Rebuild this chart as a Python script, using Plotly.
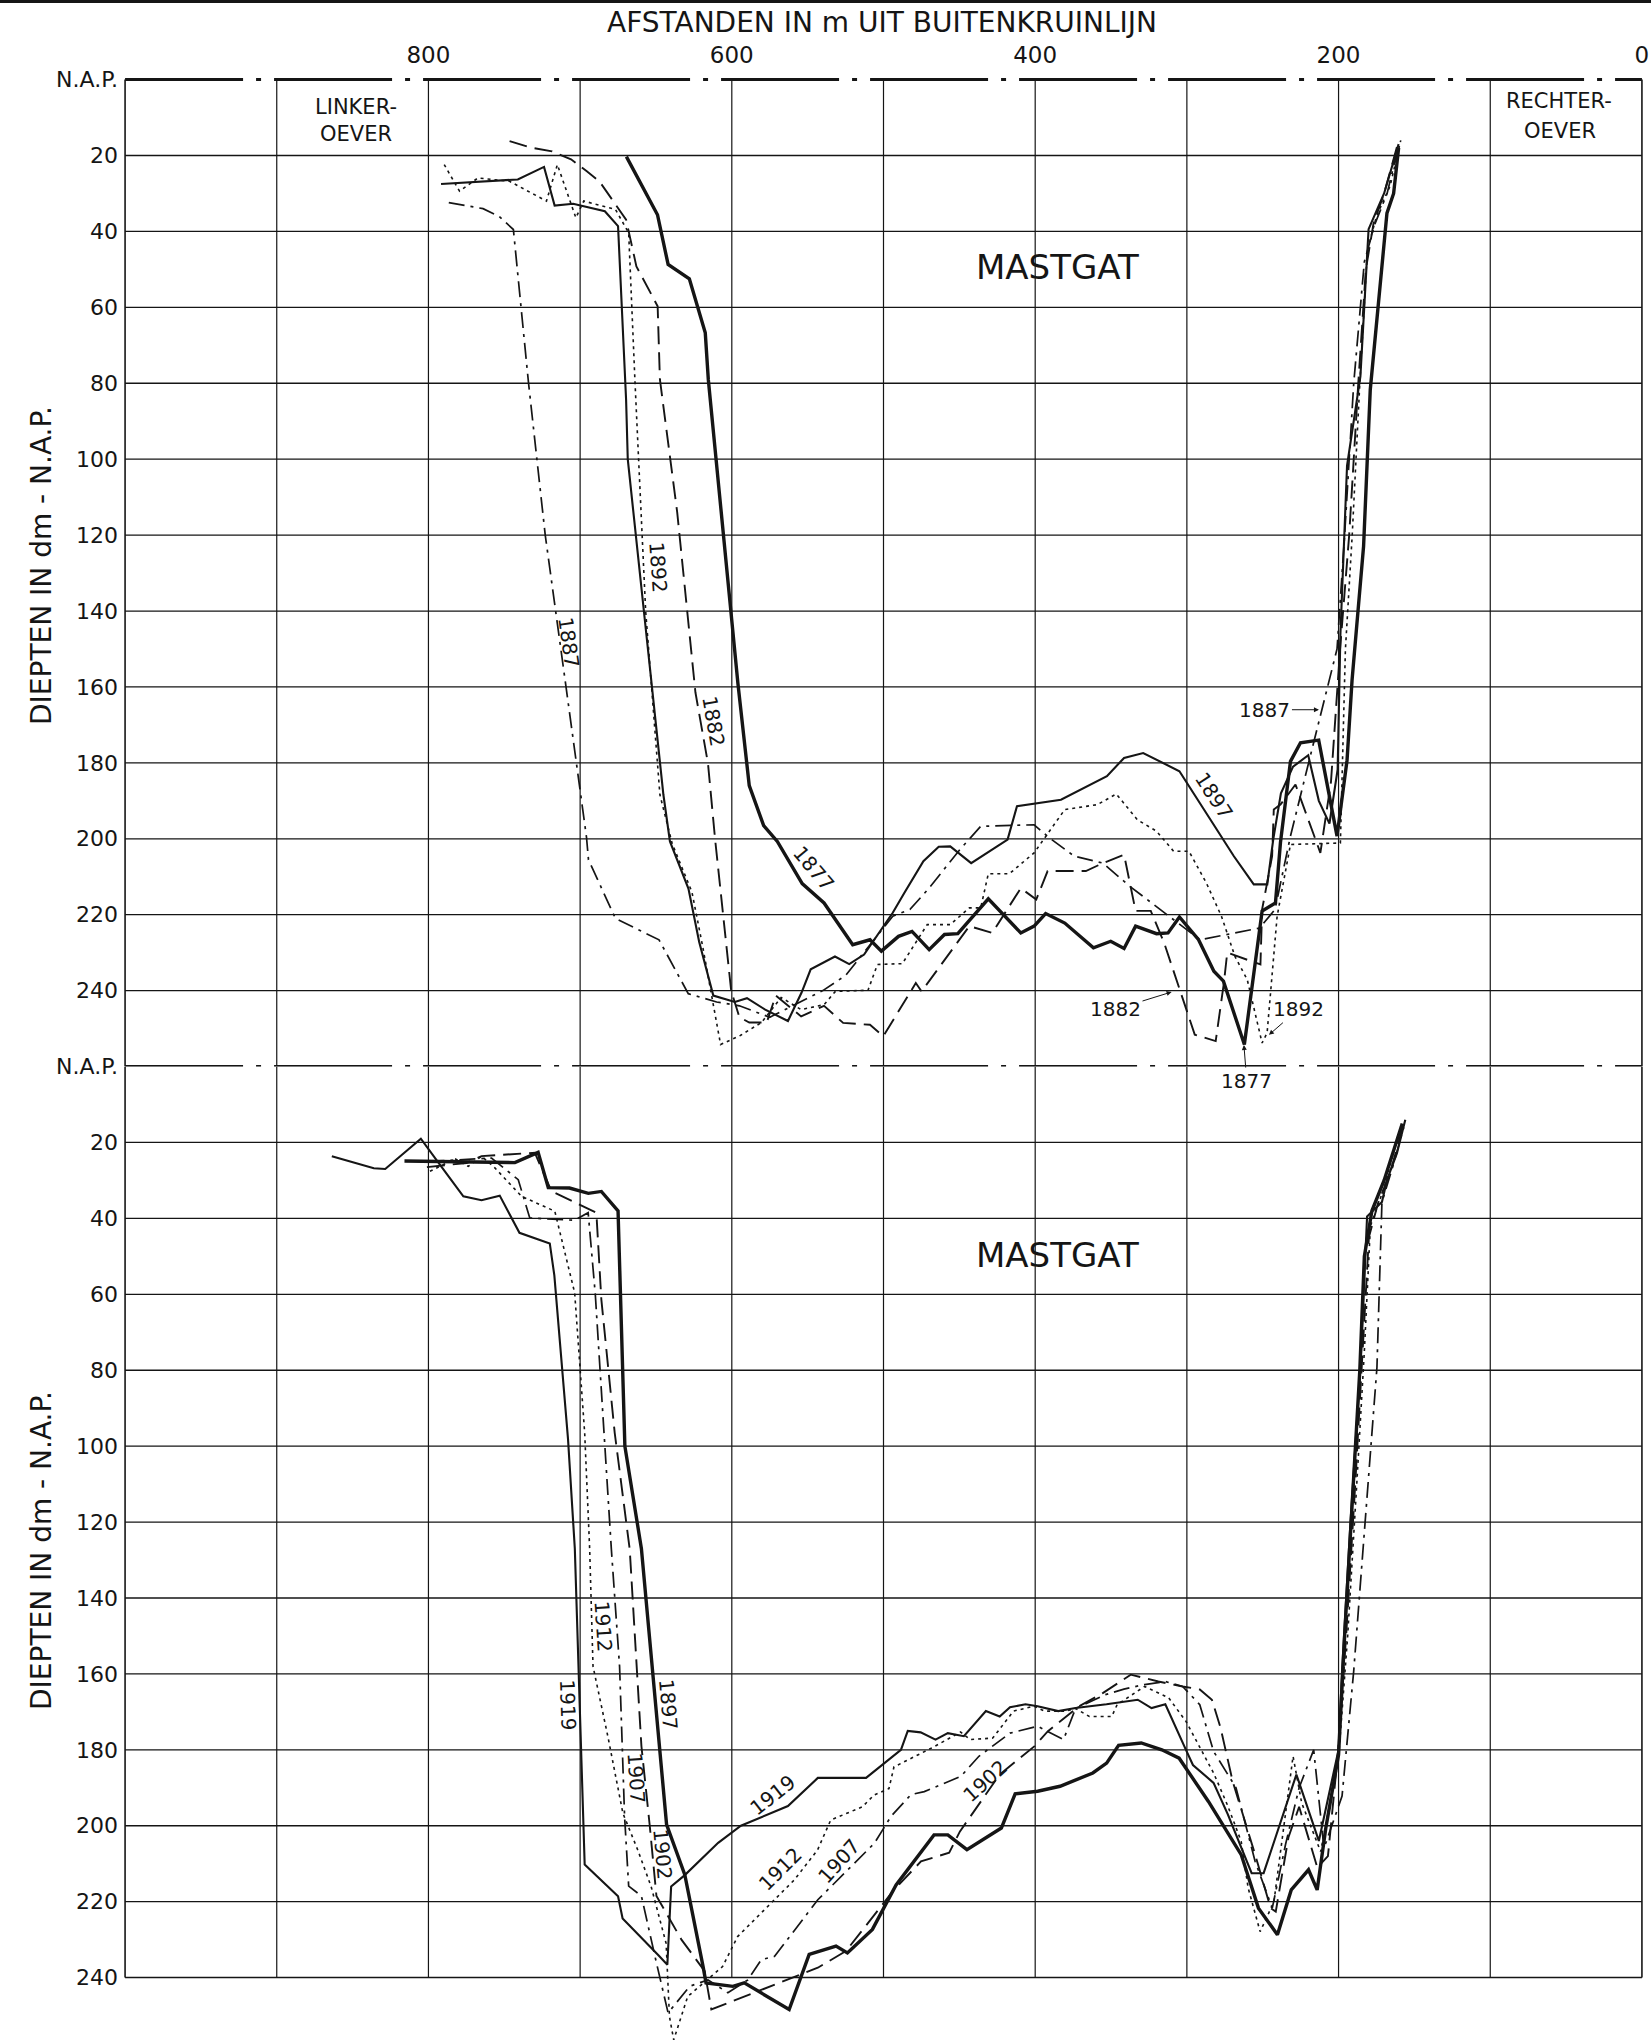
import plotly.graph_objects as go

# ---------------- data: distance (m from buitenkruinlijn) / depth (dm - N.A.P.) ----------------
X_TICKS = [800, 600, 400, 200, 0]
X_GRID = [1000, 900, 800, 700, 600, 500, 400, 300, 200, 100, 0]
Y_TICKS = [0, 20, 40, 60, 80, 100, 120, 140, 160, 180, 200, 220, 240]
Y_TICKTEXT = ["N.A.P."] + [str(v) for v in Y_TICKS[1:]]

# --- upper panel: 1877 - 1897 ---
t1877_x = [669.5, 649, 642, 628, 617.5, 615.5, 596, 588.5, 579, 570, 553.6, 539.2, 520.3, 508.9, 501.4, 490.1, 481.2,
           469.9, 459.8, 451, 430.9, 409.5, 400.7, 393.1, 380.5, 361.6, 350.2, 341.4, 333.8, 320, 312.4, 304.9, 292.3,
           282.2, 275.9, 262.1, 250.4, 241.6, 238.3, 231.7, 225.1, 213.1, 201, 194.4, 191.1, 183.5, 179.1, 173.6, 168.1,
           163.7, 160.4]
t1877_y = [20.3, 35.6, 48.7, 52.5, 66.7, 79, 159, 186, 196.5, 200.7, 211.8, 216.9, 227.9, 226.6, 229.6, 225.7, 224.4,
           229.2, 225.2, 225, 215.8, 224.8, 223, 219.7, 222.2, 228.7, 227, 228.9, 223, 225, 224.8, 220.6, 226.6,
           234.9, 237.5, 254.2, 219, 216.9, 201, 179.6, 174.7, 174, 199.3, 179.3, 158.2, 122.9, 81.7, 59.4, 35.2,
           30, 18]

t1882_x = [746.5, 732.7, 718.5, 706, 695.8, 687.3, 669.7, 662.9, 648.9, 647.4, 636, 624, 615.7, 611, 600.4, 595, 588.5,
           577, 571, 554.3, 539.2, 526.6, 508.9, 500.1, 478.7, 474.9, 443.4, 428.3, 409.5, 399.3, 391.8, 366.6, 355.3,
           341.4, 333.8, 323.8, 315, 294.8, 281, 275.6, 273.4, 251.5, 250.4, 243.8, 242.7, 238.3, 228.4, 212, 205, 199,
           193, 187, 182, 177, 170, 161]
t1882_y = [16.2, 17.9, 18.9, 21, 24.1, 26.8, 36.9, 49.2, 59.7, 79, 114, 161.4, 180.2, 200.2, 240.1, 247, 248.4,
           248.4, 241.3, 246.8, 244, 248.5, 249, 252, 238, 240.2, 223, 224.8, 213, 216, 208.5, 208.5, 206.4,
           204.2, 219, 219, 227.4, 251.6, 253.3, 238, 230, 233.1, 218.6, 204.6, 192.3, 191, 185.7, 203.7, 185, 150,
           120, 80, 50, 38, 30, 17]

t1887_x = [786.6, 764, 753.5, 744, 734, 723, 711, 695.8, 694.5, 676.7, 648, 628.7, 610, 595, 575, 560, 540, 525, 511.4,
           493.9, 482.5, 470, 450, 435.9, 400.7, 390.5, 374.2, 355.3, 337.7, 315, 297.3, 291.1, 252, 241.9, 231.7, 221,
           210.9, 201, 196, 190, 183, 176, 168, 162]
t1887_y = [32.4, 34, 36, 39.5, 80, 120, 155, 199.6, 205.5, 221, 226.6, 240.8, 243, 244, 247, 244, 240, 236, 229.2,
           220.4, 218.6, 213, 203, 196.7, 196.3, 199.8, 204.6, 206.4, 212.5, 219.5, 224.8, 226.6, 223.5, 218.6, 199.3,
           182, 165.8, 150, 120, 80, 48, 38, 30, 20]

t1892_x = [789.6, 779.5, 767.3, 746.5, 722.2, 715, 702.8, 697.6, 676.7, 668, 663.9, 656.8, 647.4, 639.3, 626.3, 619.2,
           607.4, 594.4, 580.4, 567.5, 554.3, 539.2, 531.7, 510.2, 504, 487.6, 471.2, 456, 443.4, 435.9, 430.9, 417,
           400.7, 380.5, 359, 346.5, 332.6, 320, 308.7, 298.6, 287.2, 277.2, 268.3, 260.2, 250.4, 247.1, 240.5, 231.7,
           198.8, 197.7, 195.5, 191, 186, 181, 175, 166, 159]
t1892_y = [22.4, 29.4, 25.9, 26.8, 32, 22.4, 36.4, 32, 34.2, 40.4, 79, 140, 188.4, 201.3, 214, 228.4,
           254.2, 251.8, 248.4, 241.8, 245, 243.7, 240.2, 239.9, 233.1, 232.9, 222.6, 222.6, 218.2, 218.2, 209.2, 209.2,
           203.7, 192.3, 191, 188.2, 195, 198, 203.3, 203.3, 211.6, 220.4, 231, 237.1, 253.8, 251.1, 220.4, 201.5,
           201.1, 185.3, 150.2, 120, 80, 45, 36, 28, 16]

t1897_x = [791.7, 741.1, 723.8, 716.8, 704.6, 683.7, 675, 669.7, 668.6, 658, 652.1, 645.1, 640.8, 628.6, 621.5, 612.2,
           598, 590, 578, 563, 554, 548, 532, 522.6, 512.8, 493.9, 486.3, 473.7, 463.6, 456, 442.2, 418.2, 412, 383,
           352.7, 341.4, 328.8, 304.9, 269, 255.9, 247, 243, 238, 230, 220, 213, 206, 200.6, 198.8, 194.4, 185.6,
           180.2, 170, 160.4]
t1897_y = [27.5, 26.3, 23, 33.2, 32.7, 34.7, 38.6, 84.3, 100, 140, 161.4, 188.4, 200.7, 213.1, 227.2, 241.3,
           243, 242, 245, 248, 240.5, 234.4, 231, 233, 230.5, 219.5, 214.3, 205.9, 202.1, 202, 206.4, 200.2, 191.4, 189.7,
           183.5, 178.7, 177.4, 182.2, 204.6, 212, 212, 200, 188, 181, 178, 190, 196, 181.7, 146.4, 101.7, 78.2,
           39.4, 30, 17]

# --- lower panel: 1897 - 1919 ---
b1897_x = [815.8, 743, 727.7, 721, 707, 694.6, 686, 675, 670.5, 659.6, 643, 631, 619, 617, 599.3, 591.8, 562.2, 549,
           531.3, 523.8, 507.3, 495.3, 491.7, 466.7, 457.6, 445, 422.3, 413.2, 398.4, 383.6, 362, 352.9, 345, 330.1,
           316.5, 305.1, 296, 285.8, 264.2, 252.8, 240.3, 231.2, 219.8, 214.1, 208.4, 200, 196, 190, 186, 183, 178,
           170, 158]
b1897_y = [24.9, 25.3, 22.6, 31.9, 32, 33.4, 32.9, 38, 100, 127, 199.7, 212.9, 237, 241.4, 242.3, 241.4, 248.4, 233.9,
           231.7, 233.5, 227.3, 218.5, 215.6, 202.4, 202.4, 206.3, 200.6, 191.6, 190.9, 189.6, 186.1, 183.5, 178.8, 178.2,
           180, 182.2, 187.4, 193.6, 207.6, 221.7, 228.7, 216.9, 211.6, 216.9, 200.6, 181.3, 150, 110, 80, 50, 38,
           30, 15]

b1902_x = [801, 774.8, 765, 751.8, 729.9, 718.9, 689.3, 686, 677.2, 667.3, 659.6, 654.1, 649.7, 633.2, 617.9, 613.5,
           585, 543.3, 524.7, 492.9, 475.3, 456.7, 449.6, 423.4, 400.6, 391.6, 371, 355.2, 337, 318.8, 302.8, 291.5,
           283.5, 277.8, 269.8, 255, 244.8, 241.4, 233, 226, 214, 207, 200.5, 195, 189, 184, 180, 174, 166, 157]
b1902_y = [26.5, 25.4, 23.6, 23.2, 22.7, 32.8, 38.5, 61.4, 96.5, 127.2, 179, 200, 218.5, 230, 238.3, 248.4,
           244, 237.4, 233, 216.8, 209.4, 207.1, 201.5, 186.5, 179.1, 175.1, 168.5, 165, 160.2, 162, 163.3, 164.1,
           166.8, 174.2, 188.3, 207.6, 221.7, 222.6, 203, 195, 211, 208, 181.3, 150, 110, 75, 45, 36, 28, 15]

b1907_x = [800, 758.4, 740.8, 733.2, 703.6, 694.7, 690, 684, 679.4, 674, 670.7, 668, 659.6, 649.7, 642, 627.8, 615.7,
           602.6, 589.4, 580.6, 571.8, 543.3, 506, 495, 481.9, 473.1, 449, 437.1, 416.6, 398.4, 381.3, 373.4, 354,
           341.5, 327.9, 314.2, 302.8, 291.5, 282.4, 267.6, 255, 243.7, 235, 226, 216.4, 209.6, 197.7, 190, 182.4,
           174.7, 171.4, 164, 157]
b1907_y = [25, 24.1, 29.8, 39.9, 40.5, 38.5, 60, 99, 127.2, 158, 197.5, 215.9, 218.5, 236.1, 249.3, 242.3, 240.6,
           244, 240.6, 235.3, 234.4, 219.5, 204.6, 197.5, 191.8, 191, 187, 181.7, 175.6, 173.8, 177.3, 169.1, 165.5,
           164, 162.8, 162, 163.3, 168.1, 180.4, 190, 209.4, 221.7, 205, 190, 180, 205.9, 192.2, 159.2, 120.4,
           79.3, 35.7, 26, 16]

b1912_x = [799, 782.5, 773.7, 765, 756.2, 738.6, 716.7, 703.6, 697, 693.7, 691.5, 681.7, 671.8, 662, 653.2, 643.3,
           641.1, 638.3, 629.1, 616, 606.1, 596.2, 558.9, 543.5, 534.8, 513.9, 506.2, 496.4, 493.1, 466.7, 449.2, 442.8,
           428, 414.3, 400.7, 393.9, 380.2, 373.4, 364.3, 349.5, 346, 327.9, 312, 300.6, 291.5, 282.4, 273.3, 264.2,
           259.6, 251.7, 242.6, 230, 224.3, 211.8, 200, 194, 188, 183, 179, 170, 160]
b1912_y = [27.6, 24.3, 26.3, 23.6, 26.7, 34.2, 38.1, 59.6, 96.5, 127.2, 158, 176.5, 196.7, 206.4, 216, 231,
           250.3, 256.4, 245, 240.6, 237.1, 229.2, 214.3, 206.4, 198.5, 195, 191.9, 190.2, 184.5, 179.2, 175.3, 177.3,
           176.9, 169.8, 168.5, 169.8, 169.8, 169.1, 171.2, 171.2, 168.1, 163.3, 166.3, 172.5, 179.5, 186.1, 194.5, 204.1,
           216.4, 227.9, 220, 181.7, 194, 206.8, 182.2, 150, 110, 75, 42, 32, 17]

b1919_x = [863.7, 836, 828.5, 805, 791, 777, 765, 753, 740, 720, 717, 708, 703.5, 697, 675, 672, 648.7, 642.5, 640, 631,
           609, 594, 563, 543.3, 511.5, 494, 488.5, 484, 475.5, 465.7, 457.6, 447, 432.5, 423.4, 416.6, 406.4, 398.4,
           384.8, 373.4, 353, 332.4, 323.3, 314.2, 300.6, 296, 282.4, 273, 257.3, 249.4, 227.8, 213, 200, 197.7, 192.2,
           185.6, 181.2, 171.4, 168, 161.5, 156]
b1919_y = [23.6, 26.8, 27, 19, 26.6, 34.2, 35.2, 34, 43.8, 46.6, 55, 98, 127, 210.2, 218.6, 224.4, 234, 236.6, 216, 213,
           204.5, 200, 194.8, 187.4, 187.4, 181.7, 180, 175, 175.4, 177.3, 175.6, 176.4, 169.8, 171.2, 168.8, 168, 168.5,
           169.8, 169, 168, 166.8, 169, 168, 180, 184, 188.7, 197, 212.5, 212.5, 186.5, 204, 180, 159.2, 120.4,
           79.3, 39.5, 35.7, 29.8, 22.8, 14]

# ---------------- styling / geometry ----------------
FONT = "DejaVu Sans"
INK = "#151515"
W, H = 1651, 2040
L, R, T, B = 119, 3, 72, 0
X_RANGE = [1004, -4]
PX_DM = 3.796
TOP_RANGE = [262, -2]
SEP = 260                       # N.A.P. of lower panel expressed in upper-panel depth
plot_w = W - L - R
plot_h = H - T - B
top_h = (TOP_RANGE[0] - TOP_RANGE[1]) * PX_DM
sep_px = T + (SEP - TOP_RANGE[1]) * PX_DM
bot_h = H - B - sep_px
BOT_RANGE = [bot_h / PX_DM, 0]
top_dom = [1 - top_h / plot_h, 1]
bot_dom = [0, bot_h / plot_h]


def px_x(px):
    return (px - L) / plot_w


def px_y(py):
    return 1 - (py - T) / plot_h


STYLES = {
    "thick": dict(width=3.4, dash="solid"),
    "solid": dict(width=2.1, dash="solid"),
    "longdash": dict(width=1.9, dash="18px,8px"),
    "dashdot": dict(width=1.7, dash="16px,6px,3px,6px"),
    "dotted": dict(width=1.6, dash="3px,4px"),
}

series = [
    ("y", t1877_x, t1877_y, "thick"),
    ("y", t1882_x, t1882_y, "longdash"),
    ("y", t1887_x, t1887_y, "dashdot"),
    ("y", t1892_x, t1892_y, "dotted"),
    ("y", t1897_x, t1897_y, "solid"),
    ("y2", b1897_x, b1897_y, "thick"),
    ("y2", b1902_x, b1902_y, "longdash"),
    ("y2", b1907_x, b1907_y, "dashdot"),
    ("y2", b1912_x, b1912_y, "dotted"),
    ("y2", b1919_x, b1919_y, "solid"),
]

fig = go.Figure()
for yref, xs, ys, sty in series:
    fig.add_trace(go.Scatter(x=xs, y=ys, xaxis="x", yaxis=yref, mode="lines",
                             line=dict(color=INK, **STYLES[sty]), showlegend=False, hoverinfo="skip"))

shapes = []


def seg(yref, x0, x1, y0, y1, width=1.3, dash="solid"):
    shapes.append(dict(type="line", xref="x", yref=yref, x0=x0, x1=x1, y0=y0, y1=y1, layer="below",
                       line=dict(color=INK, width=width, dash=dash)))


for d in Y_TICKS[1:]:
    seg("y", X_GRID[0], X_GRID[-1], d, d)
    seg("y2", X_GRID[0], X_GRID[-1], d, d, width=1.5 if d == Y_TICKS[-1] else 1.3)
for m in X_GRID:
    w = 1.6 if m in (X_GRID[0], X_GRID[-1]) else 1.2
    seg("y", m, m, 0, SEP, width=w)
    seg("y2", m, m, 0, Y_TICKS[-1], width=w)
NAP_DASH = "118px,13px,5px,13px"
seg("y", X_GRID[0], X_GRID[-1], 0, 0, width=3, dash=NAP_DASH)
seg("y", X_GRID[0], X_GRID[-1], SEP, SEP, width=3, dash=NAP_DASH)
# scanned sheet edge at the very top
shapes.append(dict(type="line", xref="paper", yref="paper", x0=px_x(0), x1=px_x(W),
                   y0=px_y(1.5), y1=px_y(1.5), line=dict(color=INK, width=3)))

ann = []


def txt(text, x, y, yref="y", size=19, angle=0, xref="x", **kw):
    ann.append(dict(text=text, x=x, y=y, xref=xref, yref=yref, showarrow=False, textangle=angle,
                    xanchor="center", yanchor="middle",
                    font=dict(family=FONT, size=size, color=INK), **kw))


# headings
txt("AFSTANDEN IN m UIT BUITENKRUINLIJN", px_x(882), px_y(23), xref="paper", yref="paper", size=28)
for yc in (566, 1551):
    txt("DIEPTEN IN dm - N.A.P.", px_x(41), px_y(yc), xref="paper", yref="paper", size=28, angle=-90)
txt("LINKER-", 848, 7.2, size=21)
txt("OEVER", 848, 14.3, size=21)
txt("RECHTER-", 55, 5.6, size=21)
txt("OEVER", 54, 13.5, size=21)
txt("MASTGAT", 385.5, 49.3, size=34)
txt("MASTGAT", 385.5, 49.7, yref="y2", size=34)

# year labels along the profiles
for t, m, d, a in [("1887", 707.4, 148.4, 82), ("1892", 648.6, 128.4, 86), ("1882", 612.2, 169, 80),
                   ("1877", 546.4, 207.8, 50), ("1897", 282.2, 188.8, 57)]:
    txt(t, m, d, yref="y", angle=a, size=20)
for t, m, d, a in [("1919", 707.9, 168.1, 88), ("1912", 684.9, 147.4, 86), ("1907", 663, 187.4, 86),
                   ("1897", 641.7, 168.1, 85), ("1902", 645.4, 207.6, 85), ("1919", 573, 191.8, -38),
                   ("1912", 567.9, 211.5, -45), ("1907", 529.1, 209.4, -48), ("1902", 432.9, 188.3, -42)]:
    txt(t, m, d, yref="y2", angle=a, size=20)

# labels with pointer arrows
for t, m, d, ax, ay in [("1887", 211.6, 166, -56, 0), ("1882", 308.8, 240.2, -58, 18),
                        ("1892", 246.9, 252, 31, -27), ("1877", 262.5, 253.8, 3, 38)]:
    ann.append(dict(text=t, x=m, y=d, xref="x", yref="y", showarrow=True, ax=ax, ay=ay,
                    arrowhead=2, arrowsize=1, arrowwidth=1, arrowcolor=INK, standoff=2,
                    font=dict(family=FONT, size=20, color=INK)))

fig.update_layout(
    width=W, height=H, margin=dict(l=L, r=R, t=T, b=B),
    paper_bgcolor="white", plot_bgcolor="white",
    font=dict(family=FONT, color=INK),
    xaxis=dict(range=X_RANGE, domain=[0, 1], side="top", anchor="y", tickmode="array",
               tickvals=X_TICKS, ticktext=[str(v) for v in X_TICKS], ticks="", showgrid=False,
               zeroline=False, showline=False, tickfont=dict(size=23), ticklabelstandoff=3),
    yaxis=dict(range=TOP_RANGE, domain=top_dom, anchor="x", tickmode="array", tickvals=Y_TICKS,
               ticktext=Y_TICKTEXT, ticks="", showgrid=False, zeroline=False, showline=False,
               tickfont=dict(size=22), ticklabelstandoff=0),
    yaxis2=dict(range=BOT_RANGE, domain=bot_dom, anchor="x", tickmode="array", tickvals=Y_TICKS,
                ticktext=Y_TICKTEXT, ticks="", showgrid=False, zeroline=False, showline=False,
                tickfont=dict(size=22), ticklabelstandoff=0),
    shapes=shapes, annotations=ann,
)

fig.write_html("out.html", config={"displayModeBar": False},
               post_script="document.body.style.margin='0';document.body.style.overflow='hidden';")
